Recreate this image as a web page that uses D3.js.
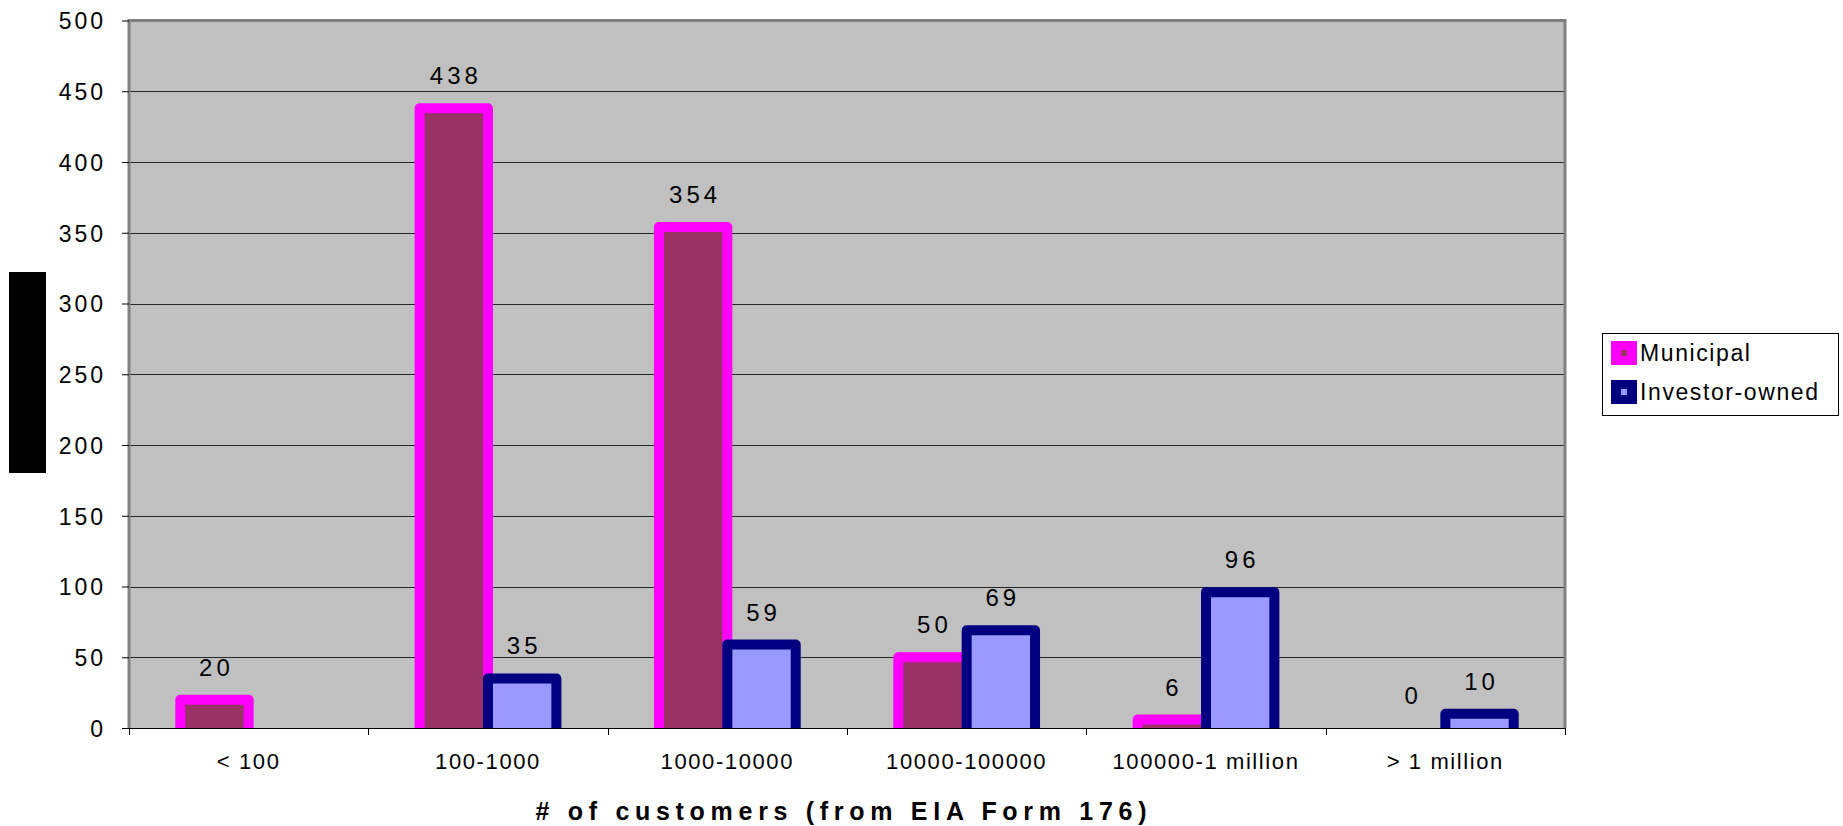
<!DOCTYPE html>
<html><head><meta charset="utf-8">
<script src="https://cdn.jsdelivr.net/npm/d3@7"></script>
<style>html,body{margin:0;padding:0;background:#fff;}svg{display:block;font-family:"Liberation Sans",Arial,sans-serif;}</style>
</head><body>
<svg id="chart" width="1843" height="826"></svg>
<script>
const categories = ["< 100","100-1000","1000-10000","10000-100000","100000-1 million","> 1 million"];
const municipal = [20,438,354,50,6,0];
const investor = [null,35,59,69,96,10];
const seriesNames = ["Municipal","Investor-owned"];
const yTicks = [0,50,100,150,200,250,300,350,400,450,500];
const xTitle = "# of customers (from EIA Form 176)";

const svg = d3.select("#chart");
const L = 129, R = 1565, T = 20.5, B = 728;
const x = d3.scaleBand().domain(categories).range([L, R]).paddingInner(0).paddingOuter(0);
const y = d3.scaleLinear().domain([0, 500]).range([B, T]);
const bw = x.bandwidth() / 3.5;

svg.append("defs").append("clipPath").attr("id","plotclip")
  .append("rect").attr("x", L).attr("y", 0).attr("width", R - L + 10).attr("height", B);

svg.append("rect").attr("x", L).attr("y", T).attr("width", R - L).attr("height", B - T).attr("fill", "#C0C0C0");

// gridlines
svg.append("g").selectAll("line").data(yTicks.filter(d => d > 0 && d < 500)).join("line")
  .attr("x1", L).attr("x2", R).attr("y1", d => Math.round(y(d)) + 0.5).attr("y2", d => Math.round(y(d)) + 0.5)
  .attr("stroke", "#000").attr("stroke-width", 1).attr("opacity", 0.8);

// border
svg.append("path").attr("d", `M${L},${B} L${L},${T} L${R},${T} L${R},${B}`)
  .attr("fill", "none").attr("stroke", "#808080").attr("stroke-width", 3);

// y axis
const yAxis = svg.append("g").attr("transform", `translate(${L},0)`)
  .call(d3.axisLeft(y).tickValues(yTicks).tickSize(7).tickPadding(16).tickFormat(d3.format("d")));
yAxis.select(".domain").remove();
yAxis.selectAll(".tick line").attr("stroke", "#000");
yAxis.selectAll(".tick text").attr("font-size", 23).attr("fill", "#000").attr("letter-spacing", "3px").attr("dy", "0.36em");

// x axis
svg.append("line").attr("x1", L).attr("x2", R + 1).attr("y1", B + 0.5).attr("y2", B + 0.5).attr("stroke", "#000");
const bounds = categories.map(c => x(c)).concat([R]);
svg.append("g").selectAll("line").data(bounds).join("line")
  .attr("x1", d => Math.round(d) + 0.5).attr("x2", d => Math.round(d) + 0.5)
  .attr("y1", B).attr("y2", B + 7).attr("stroke", "#000");
svg.append("g").selectAll("text").data(categories).join("text")
  .attr("x", d => x(d) + x.bandwidth() / 2).attr("y", 769)
  .attr("text-anchor", "middle").attr("font-size", 22).attr("letter-spacing", "1.6px").attr("fill", "#000")
  .text(d => d);

// bars
const bars = svg.append("g").attr("clip-path", "url(#plotclip)");
const cx = c => x(c) + x.bandwidth() / 2;
bars.selectAll("rect.m").data(categories.map((c, i) => ({c, v: municipal[i]})).filter(d => d.v > 0)).join("rect")
  .attr("class", "m")
  .attr("x", d => cx(d.c) - bw).attr("width", bw)
  .attr("y", d => y(d.v)).attr("height", d => B - y(d.v) + 6)
  .attr("fill", "#993366").attr("stroke", "#FF00FF").attr("stroke-width", 10).attr("stroke-linejoin", "round");
bars.selectAll("rect.i").data(categories.map((c, i) => ({c, v: investor[i]})).filter(d => d.v != null && d.v > 0)).join("rect")
  .attr("class", "i")
  .attr("x", d => cx(d.c)).attr("width", bw)
  .attr("y", d => y(d.v)).attr("height", d => B - y(d.v) + 6)
  .attr("fill", "#9999FF").attr("stroke", "#000080").attr("stroke-width", 10).attr("stroke-linejoin", "round");

// data labels
const labels = svg.append("g").attr("font-size", 24).attr("letter-spacing", "4px").attr("fill", "#000").attr("text-anchor", "middle");
categories.forEach((c, i) => {
  if (municipal[i] != null) labels.append("text").attr("x", cx(c) - bw / 2 + 2).attr("y", y(municipal[i]) - 24).text(municipal[i]);
  if (investor[i] != null) labels.append("text").attr("x", cx(c) + bw / 2 + 2).attr("y", y(investor[i]) - 24).text(investor[i]);
});

// x title
svg.append("text").attr("x", (L + R) / 2 - 6).attr("y", 820).attr("text-anchor", "middle")
  .attr("font-family", "'Liberation Sans Narrow','Liberation Sans',Arial,sans-serif")
  .attr("font-size", 25).attr("font-weight", "bold").attr("fill", "#000")
  .attr("textLength", 611).attr("lengthAdjust", "spacing").text(xTitle);

// black box (covered y title)
svg.append("rect").attr("x", 9).attr("y", 272).attr("width", 37).attr("height", 201).attr("fill", "#000");

// legend
const lg = svg.append("g");
lg.append("rect").attr("x", 1602.5).attr("y", 333.5).attr("width", 236).attr("height", 82).attr("fill", "#fff").attr("stroke", "#000").attr("stroke-width", 1);
const sw = [{o: "#FF00FF", i: "#993366"}, {o: "#000080", i: "#9999FF"}];
seriesNames.forEach((n, k) => {
  const yy = 341 + k * 39;
  lg.append("rect").attr("x", 1611).attr("y", yy).attr("width", 26).attr("height", 24).attr("fill", sw[k].o);
  lg.append("rect").attr("x", 1621).attr("y", yy + 9).attr("width", 6).attr("height", 6).attr("fill", sw[k].i);
  lg.append("text").attr("x", 1640).attr("y", yy + 20).attr("font-size", 23).attr("letter-spacing", "1.6px").attr("fill", "#000").text(n);
});
</script>
</body></html>
